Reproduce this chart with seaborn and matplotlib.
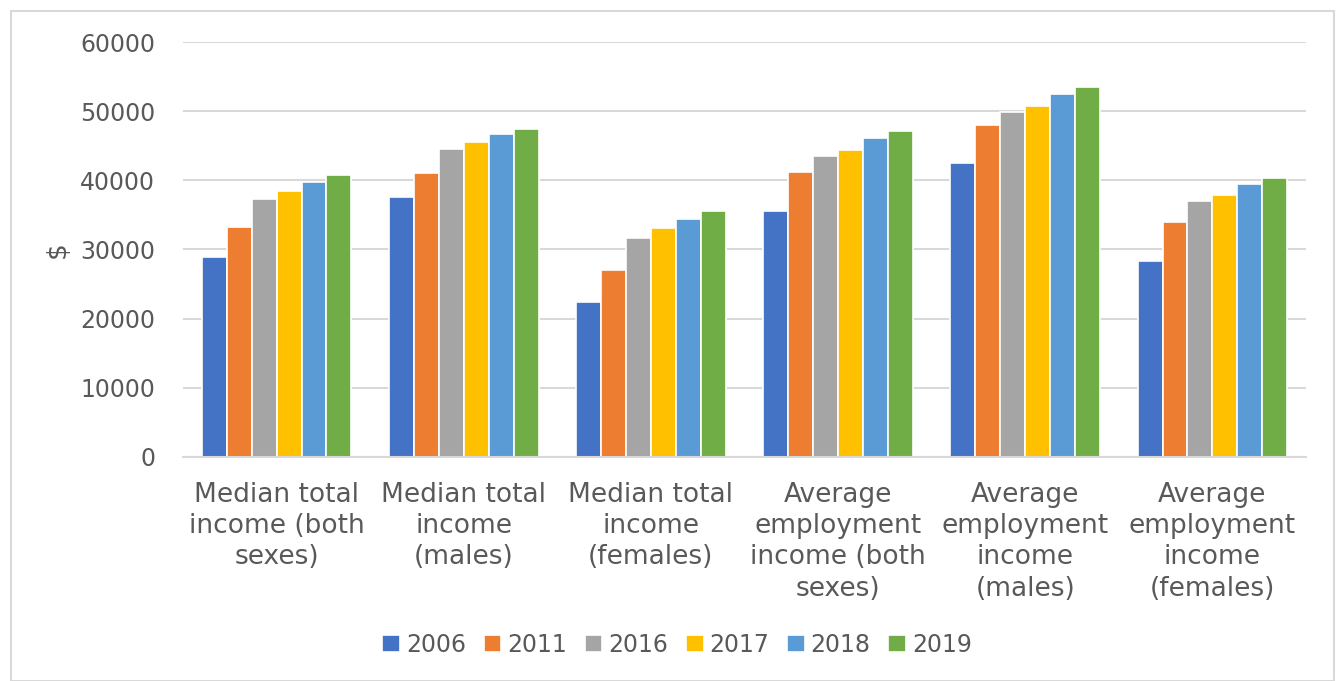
import matplotlib
matplotlib.use("Agg")
import matplotlib.pyplot as plt
import seaborn as sns
import pandas as pd
from matplotlib.patches import Rectangle

categories = [
    "Median total\nincome (both\nsexes)",
    "Median total\nincome\n(males)",
    "Median total\nincome\n(females)",
    "Average\nemployment\nincome (both\nsexes)",
    "Average\nemployment\nincome\n(males)",
    "Average\nemployment\nincome\n(females)",
]
years = ["2006", "2011", "2016", "2017", "2018", "2019"]

income_2006 = [28900, 37550, 22450, 35600, 42500, 28300]
income_2011 = [33200, 41100, 27000, 41150, 48000, 33950]
income_2016 = [37300, 44500, 31700, 43450, 49850, 37000]
income_2017 = [38500, 45600, 33100, 44450, 50800, 37900]
income_2018 = [39750, 46650, 34350, 46100, 52500, 39400]
income_2019 = [40700, 47400, 35500, 47100, 53550, 40350]

colors = ["#4472C4", "#ED7D31", "#A5A5A5", "#FFC000", "#5B9BD5", "#70AD47"]
text_color = "#595959"
grid_color = "#D9D9D9"

series = [income_2006, income_2011, income_2016, income_2017, income_2018, income_2019]
rows = []
for year, values in zip(years, series):
    for cat, v in zip(categories, values):
        rows.append({"category": cat, "year": year, "value": v})
df = pd.DataFrame(rows)

sns.set_style("white")
plt.rcParams["font.family"] = ["DejaVu Sans"]

fig = plt.figure(figsize=(13.4, 6.81), dpi=100)
ax = fig.add_axes([183 / 1340, 1 - 457 / 681, (1306 - 183) / 1340, (457 - 42) / 681])

sns.barplot(data=df, x="category", y="value", hue="year", palette=colors,
            order=categories, hue_order=years, width=0.8, ax=ax,
            edgecolor="white", linewidth=1.2, saturation=1, legend=True)

ax.set_ylim(0, 60000)
ax.set_yticks(range(0, 60001, 10000))
ax.yaxis.grid(True, color=grid_color, linewidth=1.5)
ax.set_axisbelow(True)
for s in ["top", "right", "left"]:
    ax.spines[s].set_visible(False)
ax.spines["bottom"].set_color(grid_color)
ax.spines["bottom"].set_linewidth(1.5)
ax.tick_params(axis="both", length=0, colors=text_color)
ax.tick_params(axis="y", pad=20, labelsize=17)
ax.tick_params(axis="x", pad=18, labelsize=19)
ax.set_xticks(range(len(categories)))
ax.set_xticklabels(categories, linespacing=1.26, color=text_color, fontsize=19)
ax.set_xlabel("")
ax.set_ylabel("$", color=text_color, fontsize=19)
ax.yaxis.set_label_coords(-0.1, 0.5)

handles, labels = ax.get_legend_handles_labels()
ax.get_legend().remove()
fig.legend(handles, labels, loc="center", bbox_to_anchor=(677 / 1340, 1 - 645 / 681),
           ncol=6, frameon=False, fontsize=17, labelcolor=text_color,
           handlelength=0.75, handleheight=0.75, handletextpad=0.25, columnspacing=0.75)

fig.patches.append(Rectangle((11 / 1340, 0.0), (1334 - 11) / 1340, 1 - 11 / 681,
                             transform=fig.transFigure, fill=False,
                             edgecolor=grid_color, linewidth=1.5))

fig.savefig("out.png", dpi=100, facecolor="white")
